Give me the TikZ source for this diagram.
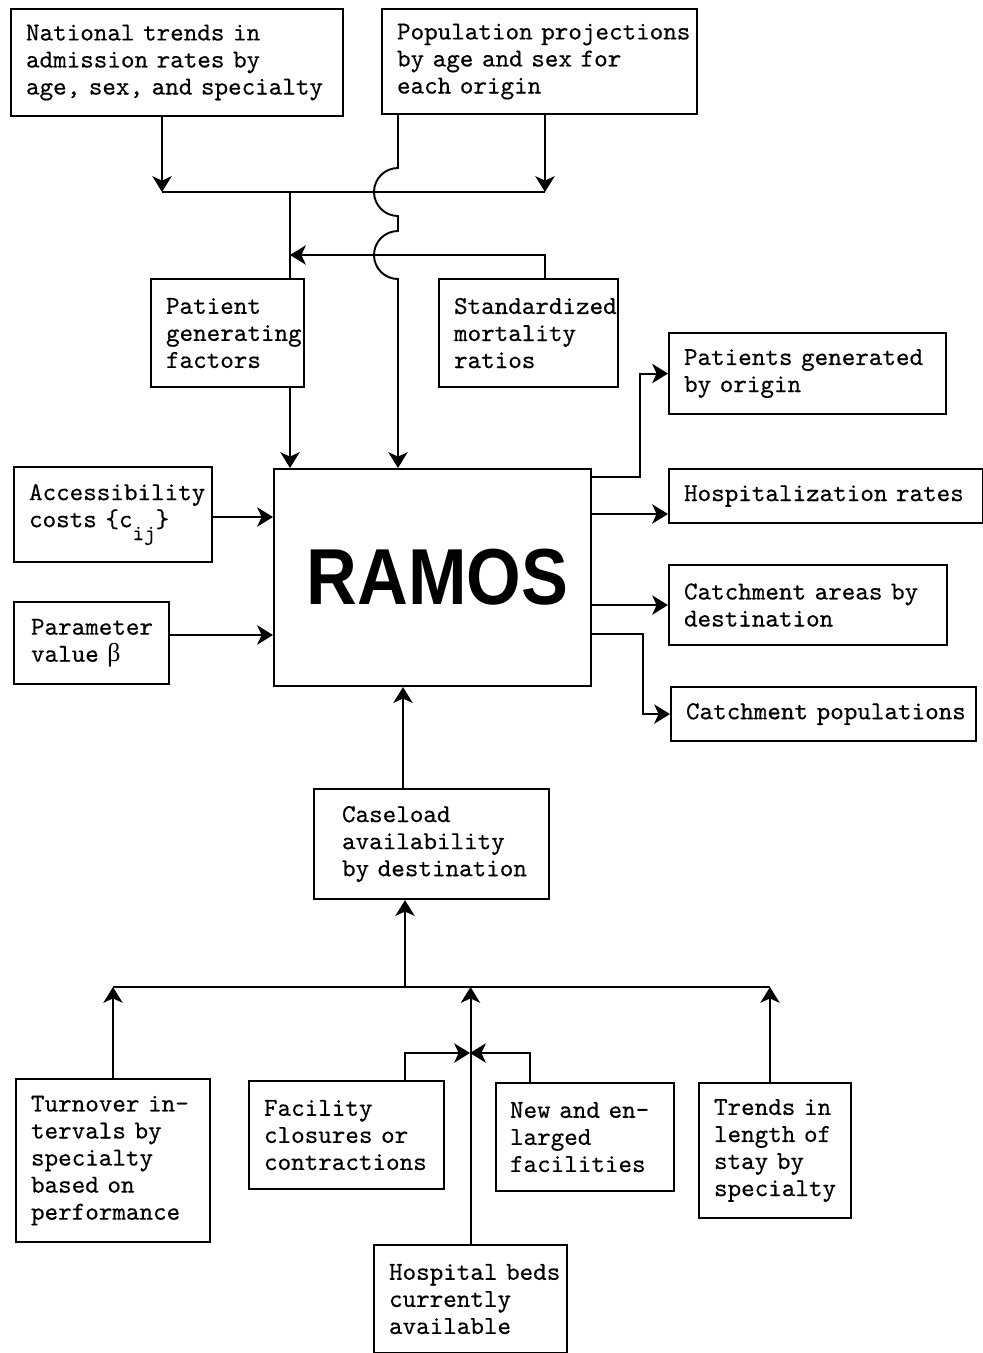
\documentclass[tikz,border=0pt]{standalone}
\usepackage{fontspec}
\setmonofont{lmmono10-regular.otf}[FakeBold=0.4]
\newfontfamily\ramosfont{Liberation Sans}
\newfontfamily\grkfont{Liberation Serif}
\usepackage{graphicx}
\usetikzlibrary{arrows.meta,positioning,calc}

\begin{document}
\begin{tikzpicture}[x=0.02cm, y=-0.02cm, font=\ttfamily\fontsize{14.7}{15.4}\selectfont,
    >={Stealth[length=9pt,width=11pt,inset=2.5pt]}]
  \tikzset{blk/.style={draw, line width=1.2pt, anchor=north west, align=left,
             inner xsep=0pt, inner ysep=0pt,
             execute at begin node={\leftskip=#1\rightskip=-2cm plus 1fil}},
           blk/.default=0.3cm,
           wire/.style={line width=1.1pt}}
  \useasboundingbox (0,0) rectangle (983,1353);
  \node[blk, text width=6.64cm, minimum height=2.14cm] (trends) at (10,8)
    {National trends in\\admission rates by\\age, sex, and specialty};
  \node[blk, text width=6.30cm, minimum height=2.10cm] (pop) at (381,8)
    {Population projections\\by age and sex for\\each origin};
  \node[blk, text width=3.06cm, minimum height=2.16cm] (pgf) at (150,278)
    {Patient\\generating\\factors};
  \node[blk, text width=3.58cm, minimum height=2.16cm] (smr) at (438,278)
    {Standardized\\mortality\\ratios};
  \node[blk, text width=5.54cm, minimum height=1.62cm] (gen) at (668,332)
    {Patients generated\\by origin};
  \node[blk, text width=6.28cm, minimum height=1.08cm] (hosp) at (668,468)
    {Hospitalization rates};
  \node[blk, text width=5.56cm, minimum height=1.60cm] (carea) at (668,564)
    {Catchment areas by\\destination};
  \node[blk, text width=6.10cm, minimum height=1.08cm] (cpop) at (670,686)
    {Catchment populations};
  \node[blk, text width=3.96cm, minimum height=1.90cm] (acc) at (13,466)
    {Accessibility\\costs \{c\raisebox{-0.5em}{\fontsize{12.5}{12.5}\selectfont ij}\}};
  \node[blk=0.34cm, text width=3.10cm, minimum height=1.64cm] (par) at (13,601)
    {Parameter\\value {\grkfont β}};
  \node[draw, line width=1.2pt, anchor=north west, minimum width=6.34cm, minimum height=4.34cm,
        inner sep=0pt, font=\ramosfont\bfseries\fontsize{40}{40}\selectfont] (ramos) at (273,468)
    {\hspace{0.2cm}\scalebox{1}[1.13]{RAMOS}};
  \node[blk=0.56cm, text width=4.70cm, minimum height=2.20cm] (case) at (313,788)
    {Caseload\\availability\\by destination};
  \node[blk, text width=3.88cm, minimum height=3.26cm] (turn) at (15,1078)
    {Turnover in-\\tervals by\\specialty\\based on\\performance};
  \node[blk, text width=3.90cm, minimum height=2.16cm] (clos) at (248,1080)
    {Facility\\closures or\\contractions};
  \node[blk=0.28cm, text width=3.56cm, minimum height=2.16cm] (new) at (495,1082)
    {New and en-\\larged\\facilities};
  \node[blk, text width=3.04cm, minimum height=2.70cm] (trend) at (698,1082)
    {Trends in\\length of\\stay by\\specialty};
  \node[blk, text width=3.86cm, minimum height=2.16cm] (beds) at (373,1244)
    {Hospital beds\\currently\\available};
  \coordinate (tl) at (162,192);
  \coordinate (tr) at (545,192);
  \coordinate (tm) at (290,192);
  \coordinate (sm) at (290,255);
  \coordinate (pv) at (398,192);
  \draw[wire,->] (tl |- trends.south) -- (tl);
  \draw[wire,->] (tr |- pop.south) -- (tr);
  \draw[wire] (tl) -- (tr);
  \draw[wire] (tm) -- (tm |- pgf.north);
  \draw[wire,->] (tr |- smr.north) |- (sm);
  \draw[wire,->] (pv |- pop.south) -- (398,168) arc[start angle=270, end angle=90, radius=24]
    -- (398,231) arc[start angle=270, end angle=90, radius=24] -- (pv |- ramos.north);
  \draw[wire,->] (tm |- pgf.south) -- (tm |- ramos.north);
  \coordinate (pa) at (0,517);
  \coordinate (pb) at (0,635);
  \draw[wire,->] (pa -| acc.east) -- (pa -| ramos.west);
  \draw[wire,->] (pb -| par.east) -- (pb -| ramos.west);
  \coordinate (r1) at (640,477);
  \coordinate (r2) at (0,514);
  \coordinate (r4) at (643,634);
  \draw[wire,->] (r1 -| ramos.east) -- (r1) |- (gen.west);
  \draw[wire,->] (r2 -| ramos.east) -- (r2 -| hosp.west);
  \draw[wire,->] (carea.west -| ramos.east) -- (carea.west);
  \draw[wire,->] (r4 -| ramos.east) -- (r4) |- (cpop.west);
  \coordinate (cx) at (403,0);
  \draw[wire,->] (cx |- case.north) -- (cx |- ramos.south);
  \coordinate (bj) at (405,987);
  \coordinate (bl) at (113,987);
  \coordinate (br) at (770,987);
  \draw[wire,->] (bj) -- (bj |- case.south);
  \draw[wire] (bl) -- (br);
  \draw[wire,->] (bl |- turn.north) -- (bl);
  \draw[wire,->] (br |- trend.north) -- (br);
  \draw[wire,->] (beds.north) -- (beds.north |- bl);
  \coordinate (fj) at (470,1053);
  \coordinate (cl) at (405,1053);
  \coordinate (nx) at (530,1053);
  \draw[wire,->] (cl |- clos.north) -- (cl) -- (fj);
  \draw[wire,->] (nx |- new.north) -- (nx) -- (fj);
\end{tikzpicture}
\end{document}
